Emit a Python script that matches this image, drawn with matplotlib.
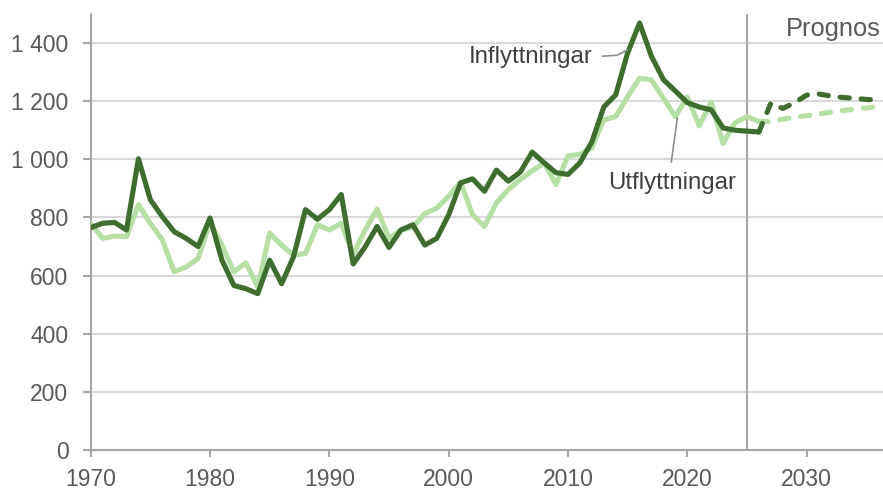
import numpy as np
import matplotlib
matplotlib.use("Agg")
from matplotlib import pyplot as plt
from matplotlib.ticker import FuncFormatter

plt.rcParams['font.family'] = ['Liberation Sans', 'DejaVu Sans']

# historical data 1970-2026
years = list(range(1970, 2027))
inflytt = [765, 780, 783, 757, 1002, 861, 803, 751, 728, 700,
           798, 653, 566, 555, 538, 653, 572, 665, 827, 794,
           827, 879, 640, 699, 769, 697, 757, 775, 705, 728,
           809, 919, 933, 890, 963, 925, 956, 1025, 988, 954,
           948, 988, 1060, 1180, 1222, 1366, 1469, 1354, 1274, 1235,
           1195, 1180, 1170, 1108, 1100, 1097, 1094]
utflytt = [780, 728, 736, 734, 844, 780, 723, 613, 630, 659,
           783, 705, 613, 644, 561, 746, 705, 670, 676, 775,
           757, 780, 672, 757, 829, 728, 757, 766, 813, 832,
           873, 921, 809, 769, 850, 896, 931, 960, 988, 913,
           1012, 1017, 1040, 1136, 1147, 1216, 1279, 1273, 1210, 1147,
           1215, 1115, 1197, 1055, 1126, 1147, 1130]

# forecast 2026-2036
prog_years = list(range(2026, 2037))
prog_inflytt = [1094, 1193, 1175, 1195, 1221, 1225, 1218, 1213, 1210, 1206, 1204]
prog_utflytt = [1130, 1130, 1138, 1145, 1150, 1156, 1162, 1168, 1172, 1177, 1181]

dark = '#3f6d30'
light = '#b6dfa6'
grey_txt = '#595959'
axis_grey = '#a6a6a6'

fig = plt.figure(figsize=(8.83, 4.91), dpi=100)
ax = fig.add_axes([90.7 / 883, 41 / 491, (883 - 90.7) / 883, 436 / 491])

ax.plot(years, utflytt, color=light, lw=3.7, solid_joinstyle='round', solid_capstyle='round', zorder=3)
ax.plot(years, inflytt, color=dark, lw=3.7, solid_joinstyle='round', solid_capstyle='round', zorder=4)
ax.plot(prog_years, prog_utflytt, color=light, lw=3.7, dashes=(1.8, 2.3),
        dash_capstyle='round', dash_joinstyle='round', zorder=3)
ax.plot(prog_years, prog_inflytt, color=dark, lw=3.7, dashes=(1.8, 2.3),
        dash_capstyle='round', dash_joinstyle='round', zorder=4)

ax.axvline(2025, color=axis_grey, lw=1.5, zorder=2)

ax.set_xlim(1970, 2036.4)
ax.set_ylim(0, 1500)
ax.set_yticks(range(0, 1401, 200))
ax.set_xticks(range(1970, 2031, 10))
ax.yaxis.set_major_formatter(FuncFormatter(lambda v, p: f"{int(v):,}".replace(",", " ")))
ax.grid(axis='y', color='#d9d9d9', lw=1.5, zorder=0)
ax.set_axisbelow(True)

for s in ['top', 'right']:
    ax.spines[s].set_visible(False)
for s in ['left', 'bottom']:
    ax.spines[s].set_color(axis_grey)
    ax.spines[s].set_linewidth(1.5)
ax.tick_params(axis='y', length=6, width=1.5, color=axis_grey, pad=10,
               labelsize=16.5, labelcolor=grey_txt)
ax.tick_params(axis='x', length=5, width=1.5, color=axis_grey, pad=8,
               labelsize=16.5, labelcolor=grey_txt)

# labels
ax.text(2012.1, 1352, "Inflyttningar", ha='right', va='center', fontsize=17.3, color='#404040')
ax.plot([2012.9, 2014.1, 2015.0], [1355, 1358, 1376], color='#8c8c8c', lw=1.2, zorder=5)
ax.text(2018.7, 918, "Utflyttningar", ha='center', va='center', fontsize=17.3, color='#404040')
ax.plot([2018.66, 2019.16], [991, 1142], color='#8c8c8c', lw=1.2, zorder=5)
ax.text(2036.2, 1450, "Prognos", ha='right', va='center', fontsize=18.3, color=grey_txt)

fig.savefig("out.png", dpi=100)
